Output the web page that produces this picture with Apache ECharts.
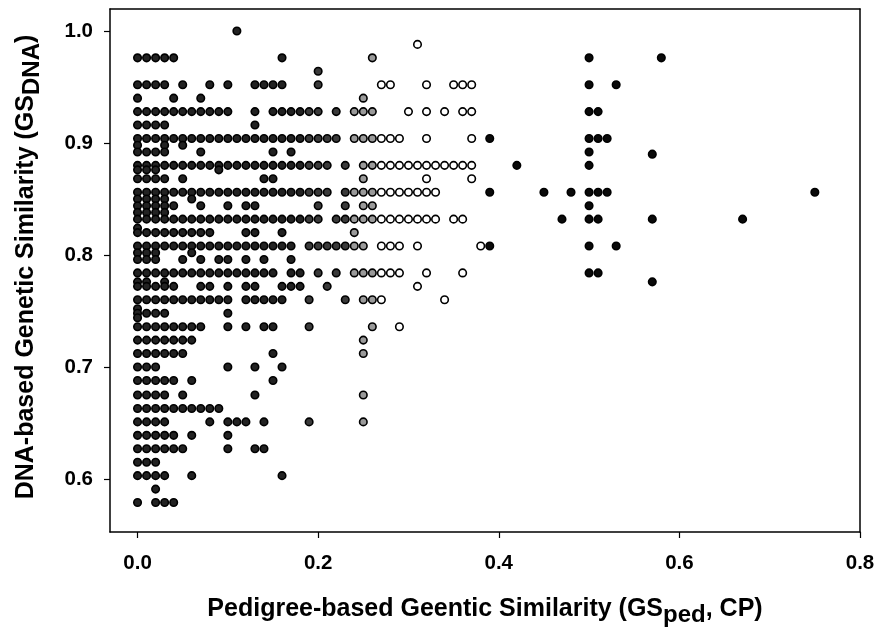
<!DOCTYPE html>
<html><head><meta charset="utf-8">
<script src="https://cdn.jsdelivr.net/npm/echarts@6/dist/echarts.min.js"></script>
<style>html,body{margin:0;padding:0;background:#fff}#c{width:878px;height:629px}</style>
</head><body><div id="c"></div>
<script>
const xTicks = [0, 0.2, 0.4, 0.6, 0.8];
const yTicks = [0.6, 0.7, 0.8, 0.9, 1.0];
// GS_DNA value of each row, and the pedigree similarity (in hundredths) of the points on it
const rowY = [1.0,0.988,0.976,0.964,0.952,0.94,0.928,0.916,0.904,0.898,0.892,0.89,0.88,0.876,0.868,0.856,0.85,0.844,0.838,0.832,0.824,0.82,0.808,0.802,0.796,0.784,0.776,0.772,0.76,0.752,0.748,0.744,0.736,0.724,0.712,0.7,0.688,0.675,0.663,0.651,0.639,0.627,0.615,0.603,0.591,0.579];
const rowX = [
[11],
[31],
[0,1,2,3,4,16,26,50,58],
[20],
[0,1,2,3,5,8,10,13,14,15,16,20,27,28,32,35,36,37,50,53],
[0,4,7,25],
[0,1,2,3,4,5,6,7,8,9,10,13,15,16,17,18,19,20,22,24,25,26,30,32,34,36,37,50,51],
[0,1,2,3,13],
[0,1,2,3,4,5,6,7,8,9,10,11,12,13,14,15,16,17,18,19,20,21,22,24,25,26,27,28,29,32,37,39,50,51,52],
[0,3,5],
[0,1,2,3,7,15,17,50],
[57],
[0,1,2,3,4,5,6,7,8,9,10,11,12,13,14,15,16,17,18,19,20,21,23,25,26,27,28,29,30,31,32,33,34,35,36,37,42,50],
[0,1,2,9],
[0,1,2,3,5,14,15,25,32,37],
[0,1,2,3,4,5,6,7,8,9,10,11,12,13,14,15,16,17,18,19,20,21,23,24,25,26,27,28,29,30,31,32,33,39,45,48,50,51,52,75],
[0,1,2,3,6],
[0,1,2,3,4,7,10,12,13,20,23,25,26,50],
[0,1,2,3],
[0,1,2,3,4,5,6,7,8,9,10,11,12,13,14,15,16,17,18,19,20,22,23,24,25,26,27,28,29,30,31,32,33,35,36,47,50,51,57,67],
[0],
[0,1,2,3,4,5,6,7,8,12,13,16,24],
[0,1,2,3,4,5,6,7,8,9,10,11,12,13,14,15,16,17,19,20,21,22,23,24,25,27,28,29,31,38,39,50,53],
[0,1,2,6],
[0,1,2,5,7,9,10,12,14,17],
[0,1,2,3,4,5,6,7,8,9,10,11,12,13,14,15,17,18,20,22,24,25,26,27,28,29,32,36,50,51],
[0,1,3,57],
[0,1,2,3,4,7,8,10,12,13,16,17,18,21,31],
[0,1,2,3,4,5,6,7,8,9,10,12,13,14,15,16,19,23,25,26,27,34],
[0],
[0,1,2,3,10],
[0],
[0,1,2,3,4,5,6,7,10,12,14,15,19,26,29],
[0,1,2,3,4,5,6,25],
[0,1,2,3,4,5,15,25],
[0,1,2,10,13,16],
[0,1,2,3,4,6,15],
[0,1,2,3,5,13,25],
[0,1,2,3,4,5,6,7,8,9],
[0,1,2,3,8,10,11,12,14,19,25],
[0,1,2,3,4,6,10],
[0,1,2,3,4,5,10,13,14],
[0,1,2],
[0,1,2,3,6,16],
[2],
[0,2,3,4]
];
const fillStops = [[19,'#222222'],[24,'#3a3a3a'],[27,'#9a9a9a'],[38.5,'#ffffff'],[100,'#0a0a0a']];
const fillFor = p => fillStops.find(s => p < s[0])[1];
const points = [];
rowY.forEach((y,i) => rowX[i].forEach(p => points.push({value:[p/100,y],itemStyle:{color:fillFor(p)}})));
const font = '"Liberation Sans", Arial, sans-serif';
const xMin = -0.0305, xMax = 0.8, yMin = 0.5527, yMax = 1.0196;
const frameLine = {show:true,onZero:false,lineStyle:{color:'#000',width:1.5}};
const rich = size => ({
  a:{fontFamily:font,fontWeight:'bold',fontSize:size,color:'#000'},
  s:{fontFamily:font,fontWeight:'bold',fontSize:size-1,color:'#000',padding:[12,0,0,0]}
});
const tickLabel = {formatter:v=>v.toFixed(1),color:'#000',fontFamily:font,fontWeight:'bold',fontSize:20.5};
const tick = {show:true,length:6,lineStyle:{color:'#000',width:1.2}};
const chart = echarts.init(document.getElementById('c'),null,{renderer:'canvas'});
chart.setOption({
  animation:false,
  backgroundColor:'#fff',
  grid:{left:110,top:9,right:18,bottom:97,show:false,outerBoundsMode:'none',containLabel:false},
  xAxis:[{type:'value',min:xMin,max:xMax,position:'bottom',
    axisLine:frameLine,splitLine:{show:false},
    axisTick:{...tick,customValues:xTicks},
    axisLabel:{...tickLabel,customValues:xTicks,margin:21},
    name:'{a|Pedigree-based Geentic Similarity (GS}{s|ped}{a|, CP)}',nameLocation:'middle',nameGap:59,
    nameTextStyle:{rich:rich(25)}
  },{type:'value',min:xMin,max:xMax,position:'top',axisLine:frameLine,axisTick:{show:false},axisLabel:{show:false},splitLine:{show:false}}],
  yAxis:[{type:'value',min:yMin,max:yMax,position:'left',
    axisLine:frameLine,splitLine:{show:false},
    axisTick:{...tick,customValues:yTicks},
    axisLabel:{...tickLabel,customValues:yTicks,margin:17},
    name:'{a|DNA-based Genetic Similarity (GS}{s|DNA}{a|)}',nameLocation:'middle',nameGap:66,
    nameTextStyle:{rich:rich(25),padding:[0,0,0,7]}
  },{type:'value',min:yMin,max:yMax,position:'right',axisLine:frameLine,axisTick:{show:false},axisLabel:{show:false},splitLine:{show:false}}],
  series:[{type:'scatter',symbol:'circle',symbolSize:7.5,data:points,
    itemStyle:{borderColor:'#000',borderWidth:1.6,opacity:1},clip:false}]
});
</script>
</body></html>
